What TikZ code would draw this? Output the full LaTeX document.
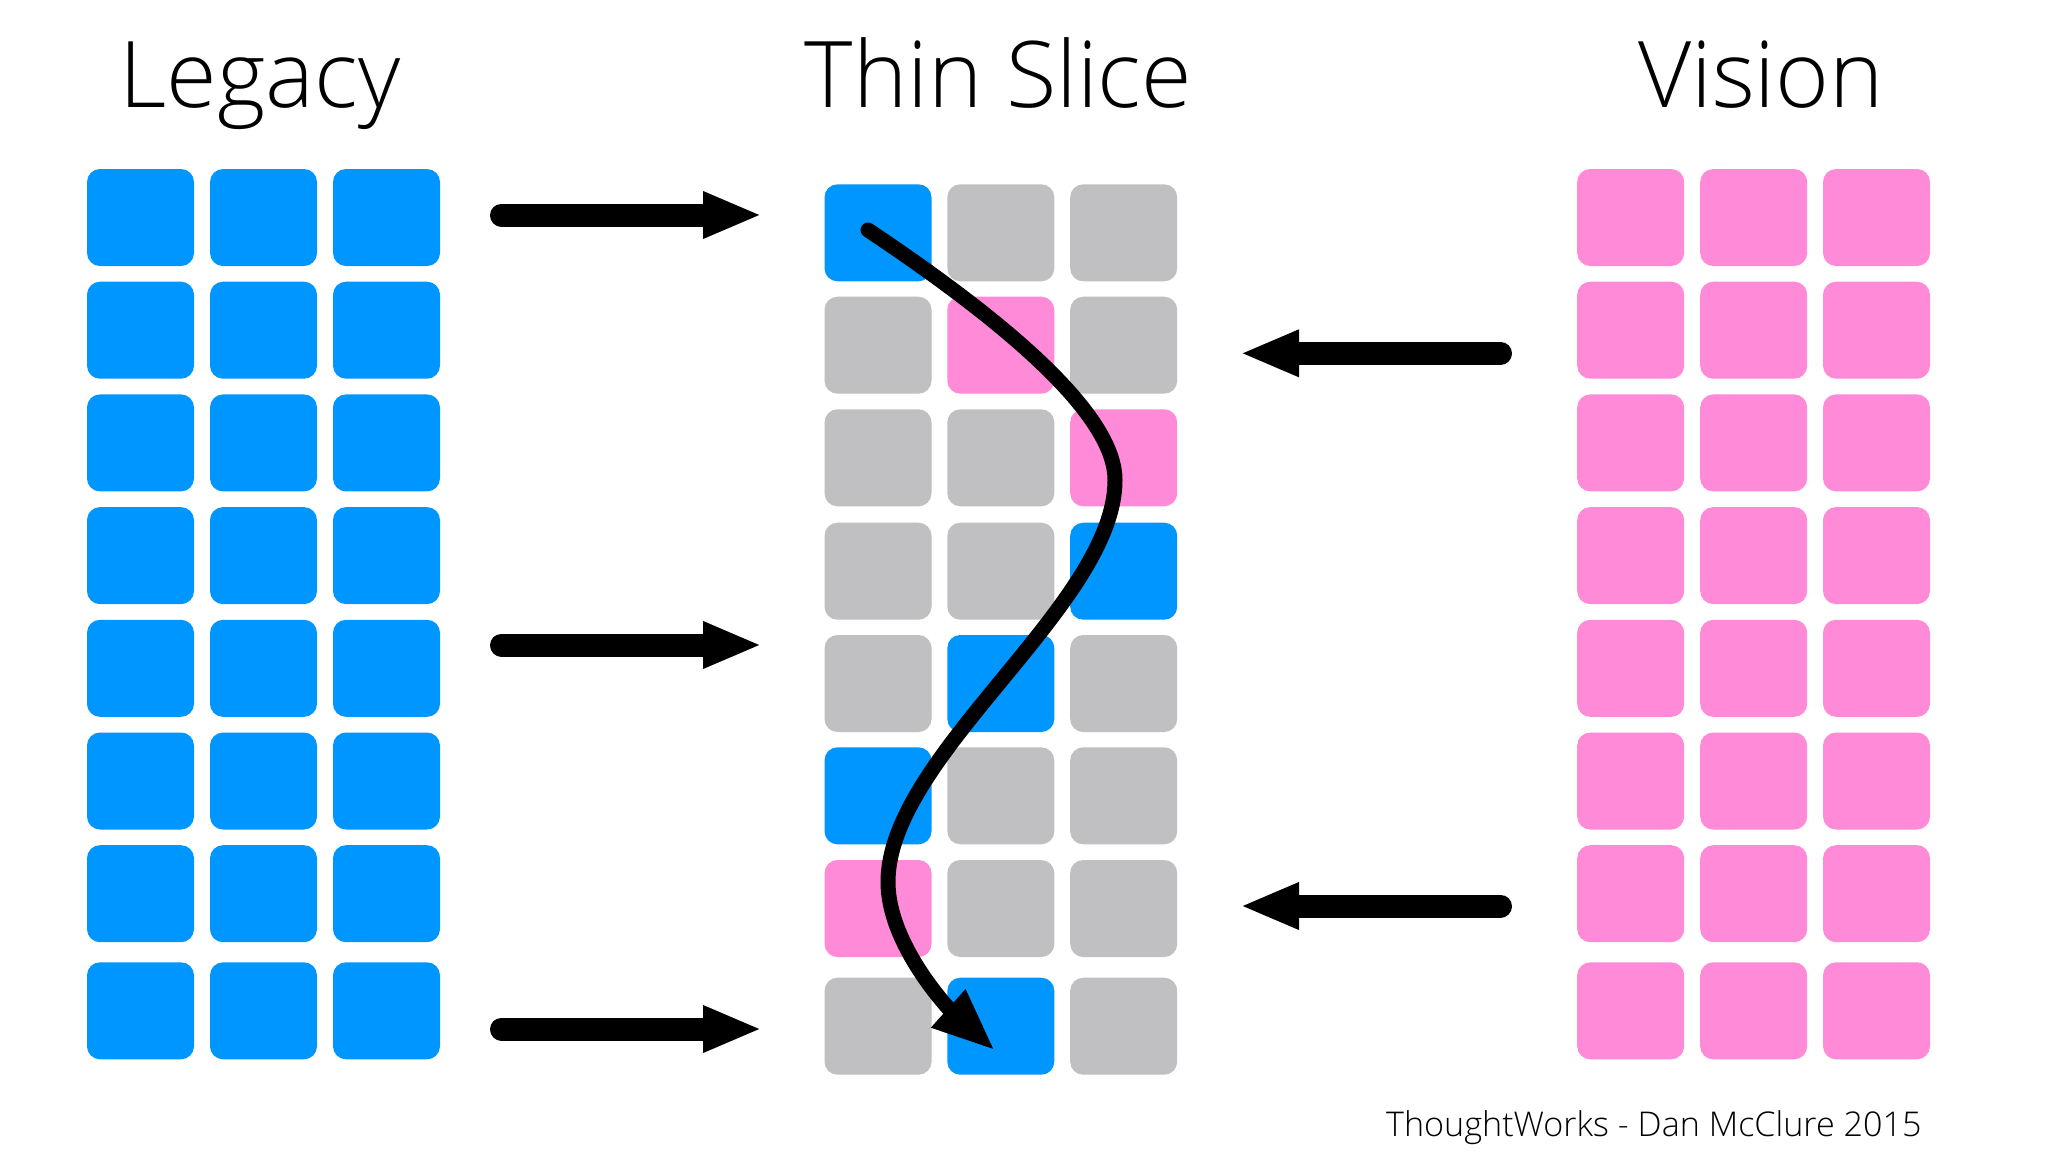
\documentclass[tikz,border=0pt]{standalone}
\usepackage{fontspec}
\IfFontExistsTF{Open Sans Light}{\setmainfont{Open Sans Light}}{\IfFontExistsTF{OpenSans-Light}{\setmainfont{OpenSans-Light}}{\setmainfont{Open Sans}}}
\usetikzlibrary{arrows.meta}
\definecolor{cblue}{RGB}{0,150,255}
\definecolor{cgray}{RGB}{192,191,194}
\definecolor{cpink}{RGB}{255,138,216}
\begin{document}
\begin{tikzpicture}[x=1pt,y=-1pt,
  cell/.style={rectangle, rounded corners=13pt, minimum width=107pt, minimum height=97pt, inner sep=0pt, draw=none},
  title/.style={anchor=base, inner sep=0pt, font=\fontsize{92}{110}\selectfont},
  bigarrow/.style={line width=23pt, line cap=round, -{Triangle[length=59pt,width=43pt]}},
  patharrow/.style={line width=15pt, line cap=round, -{Triangle[length=63pt,width=47pt]}}]
\useasboundingbox (0,0) rectangle (2048,1152);
\fill[white] (0,0) rectangle (2048,1152);
% titles
\node[title] (tlegacy) at (260,107) {Legacy};
\node[title] (tslice) at (998.5,107) {Thin Slice};
\node[title] (tvision) at (1761,107) {Vision};
% legacy and vision grids
\foreach \r/\y in {1/217.5,2/330.2,3/442.9,4/555.6,5/668.3,6/781,7/893.7,8/1010.8}{
  \foreach \c/\x in {1/140.5,2/263.5,3/386.5}{
    \node[cell, fill=cblue] (L-\r-\c) at (\x,\y) {};
  }
  \foreach \c/\x in {1/1630.7,2/1753.7,3/1876.5}{
    \node[cell, fill=cpink] (V-\r-\c) at (\x,\y) {};
  }
}
% thin slice grid
\foreach \r/\y/\ca/\cb/\cc in {1/232.8/cblue/cgray/cgray, 2/345.2/cgray/cpink/cgray, 3/457.8/cgray/cgray/cpink, 4/571.2/cgray/cgray/cblue, 5/683.5/cgray/cblue/cgray, 6/795.8/cblue/cgray/cgray, 7/908.5/cpink/cgray/cgray, 8/1026.2/cgray/cblue/cgray}{
  \node[cell, fill=\ca] (T-\r-1) at (878,\y) {};
  \node[cell, fill=\cb] (T-\r-2) at (1000.8,\y) {};
  \node[cell, fill=\cc] (T-\r-3) at (1123.7,\y) {};
}
% right arrows
\coordinate (ra1) at (501.5,215);  \coordinate (rb1) at (762,215);
\coordinate (ra2) at (501.5,645); \coordinate (rb2) at (762,645);
\coordinate (ra3) at (501.5,1029); \coordinate (rb3) at (762,1029);
\draw[bigarrow] (ra1) -- (rb1);
\draw[bigarrow] (ra2) -- (rb2);
\draw[bigarrow] (ra3) -- (rb3);
% left arrows
\coordinate (la1) at (1500.5,353.3); \coordinate (lb1) at (1240,353.3);
\coordinate (la2) at (1500.5,906); \coordinate (lb2) at (1240,906);
\draw[bigarrow] (la1) -- (lb1);
\draw[bigarrow] (la2) -- (lb2);
% path through the slice
\coordinate (cs) at (868,230);
\coordinate (ce) at (995,1050.5);
\draw[patharrow] (cs) .. controls (1033,340) and (1115,423) .. (1115,480)
  .. controls (1115,605) and (888,755) .. (888,882)
  .. controls (888,945) and (950,1010) .. (ce);
% footer
\node[anchor=base west, inner sep=0pt, font=\fontsize{34.1}{42}\selectfont] (foot) at (1386,1136) {ThoughtWorks - Dan McClure 2015};
\end{tikzpicture}
\end{document}
